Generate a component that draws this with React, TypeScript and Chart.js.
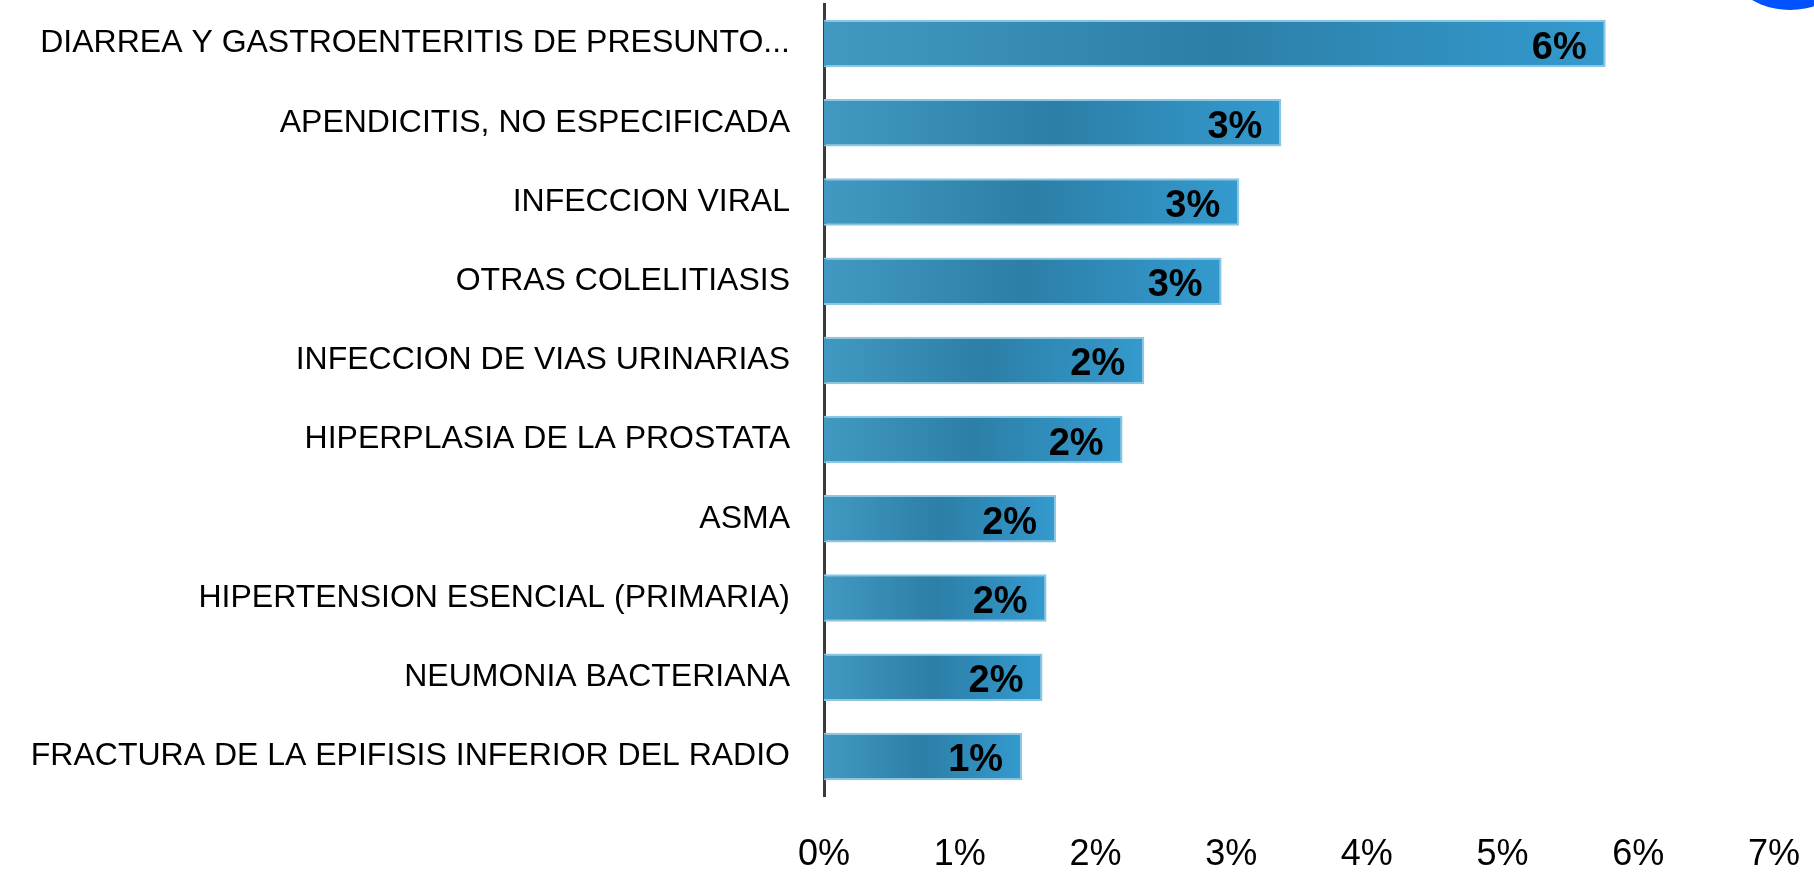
import React, { useEffect, useRef } from "react";
import { Chart, registerables } from "chart.js";

Chart.register(...registerables);

const categories = [
  "DIARREA Y GASTROENTERITIS DE PRESUNTO...",
  "APENDICITIS, NO ESPECIFICADA",
  "INFECCION VIRAL",
  "OTRAS COLELITIASIS",
  "INFECCION DE VIAS URINARIAS",
  "HIPERPLASIA DE LA PROSTATA",
  "ASMA",
  "HIPERTENSION ESENCIAL (PRIMARIA)",
  "NEUMONIA BACTERIANA",
  "FRACTURA DE LA EPIFISIS INFERIOR DEL RADIO",
];

const percentValues = [5.76, 3.37, 3.06, 2.93, 2.36, 2.2, 1.71, 1.64, 1.61, 1.46];

const dataLabels = ["6%", "3%", "3%", "3%", "2%", "2%", "2%", "2%", "2%", "1%"];

const xTickMin = 0;
const xTickMax = 7;

const FONT = "'Liberation Sans', Arial, sans-serif";

const valueLabelPlugin = {
  id: "valueLabels",
  afterDatasetsDraw(chart: any) {
    const ctx = chart.ctx;
    const meta = chart.getDatasetMeta(0);
    ctx.save();
    ctx.font = `bold 38px ${FONT}`;
    ctx.fillStyle = "#000000";
    ctx.textAlign = "right";
    ctx.textBaseline = "alphabetic";
    meta.data.forEach((bar: any, i: number) => {
      ctx.fillText(dataLabels[i], bar.x - 19, bar.y + 15);
    });
    ctx.restore();
  },
};

export default function App() {
  const canvasRef = useRef<HTMLCanvasElement | null>(null);

  useEffect(() => {
    if (!canvasRef.current) return;
    const chart = new Chart(canvasRef.current, {
      type: "bar",
      data: {
        labels: categories,
        datasets: [
          {
            data: percentValues,
            backgroundColor: (c: any) => {
              const ch = c.chart;
              const xs = ch.scales?.x;
              if (!xs || !ch.chartArea || c.raw === undefined) return "#3290c0";
              const x0 = xs.getPixelForValue(0);
              const x1 = xs.getPixelForValue(c.raw);
              if (!isFinite(x0) || !isFinite(x1) || x1 <= x0) return "#3290c0";
              const g = ch.ctx.createLinearGradient(x0, 0, x1, 0);
              g.addColorStop(0, "#4199c2");
              g.addColorStop(0.5, "#2c7fa7");
              g.addColorStop(1, "#349ace");
              return g;
            },
            borderColor: "#8cc6e2",
            borderWidth: { top: 2, bottom: 2, right: 2, left: 0 },
            borderSkipped: "left",
            barPercentage: 0.6,
            categoryPercentage: 1,
          },
        ],
      },
      options: {
        indexAxis: "y",
        animation: false,
        responsive: true,
        maintainAspectRatio: false,
        layout: { padding: { top: 4, right: 40, bottom: 0, left: 0 } },
        plugins: {
          legend: { display: false },
          tooltip: { enabled: false },
        },
        scales: {
          x: {
            min: xTickMin,
            max: xTickMax,
            grid: { display: false, drawTicks: false },
            border: { display: false },
            ticks: {
              stepSize: 1,
              color: "#000000",
              padding: 37,
              font: { family: FONT, size: 36 },
              callback: (v: any) => `${v}%`,
            },
            afterFit: (s: any) => {
              s.height = 77;
              s.paddingLeft = 0;
              s.paddingRight = 0;
            },
          },
          y: {
            grid: { display: false, drawTicks: false },
            border: { display: true, color: "#3a3a3a", width: 3 },
            ticks: {
              color: "#000000",
              padding: 34,
              font: { family: FONT, size: 32 },
              autoSkip: false,
            },
            afterFit: (s: any) => {
              s.width = 824;
              s.paddingTop = 0;
              s.paddingBottom = 0;
            },
          },
        },
      },
      plugins: [valueLabelPlugin],
    } as any);
    return () => chart.destroy();
  }, []);

  return (
    <div
      style={{
        position: "fixed",
        left: 0,
        top: 0,
        width: 1814,
        height: 873,
        overflow: "hidden",
        background: "#ffffff",
      }}
    >
      <canvas ref={canvasRef} />
      <div
        style={{
          position: "absolute",
          left: 1713,
          top: -144,
          width: 154,
          height: 154,
          borderRadius: "50%",
          background: "#0052ff",
        }}
      />
    </div>
  );
}
